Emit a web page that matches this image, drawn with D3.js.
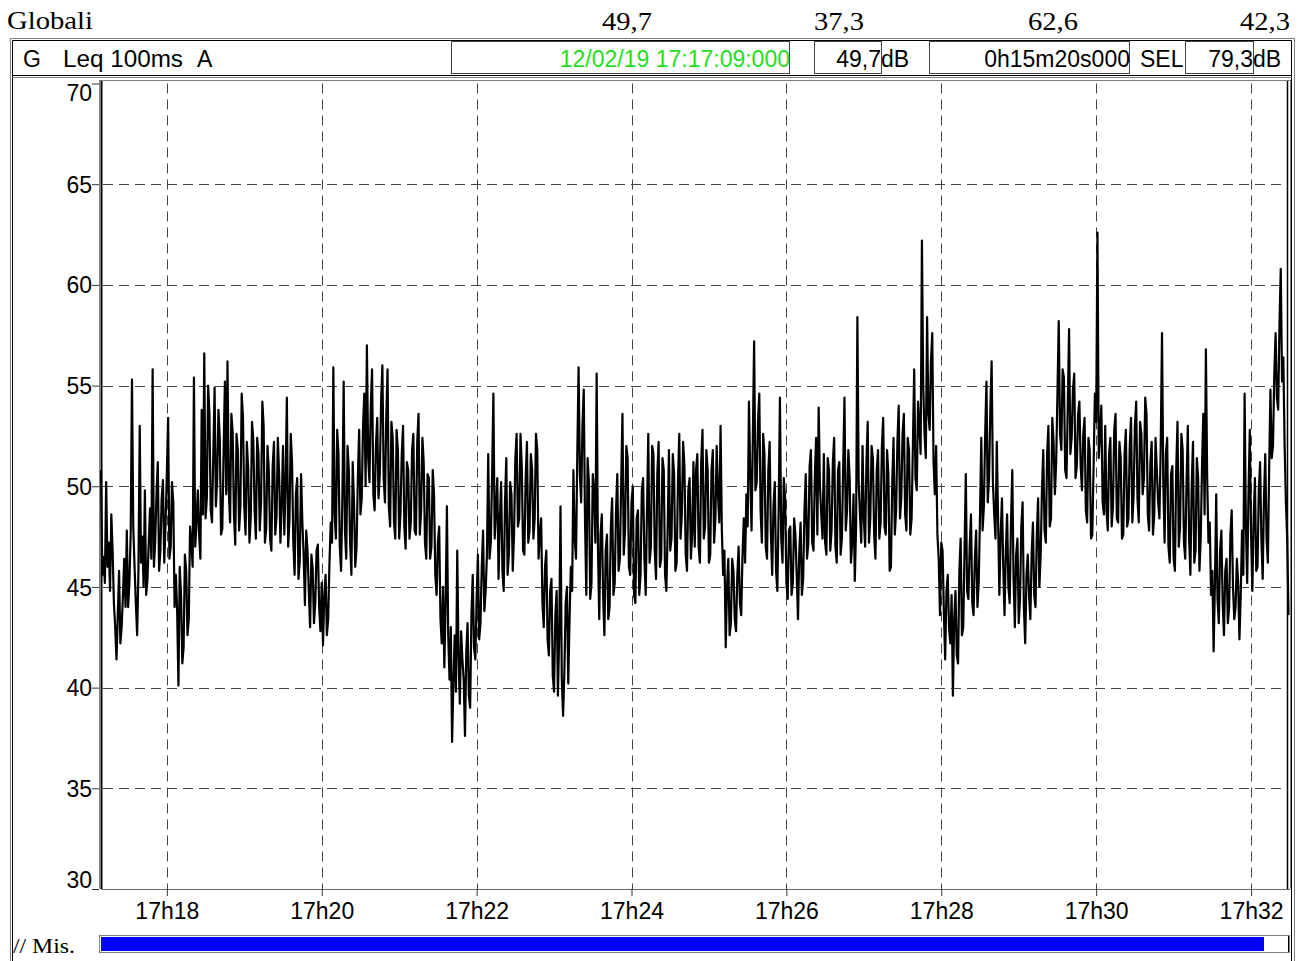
<!DOCTYPE html>
<html lang="it">
<head>
    <meta charset="UTF-8">
    <title>Globali - Leq 100ms A</title>
    <script src="https://cdn.jsdelivr.net/npm/d3@7"></script>
    <style>
        body { margin: 0; background: #fff; }
        svg { display: block; }
        .sans { font-family: "Liberation Sans", Arial, sans-serif; }
        .serif { font-family: "Liberation Serif", "Times New Roman", serif; }
    </style>
</head>
<body>
<div id="canvas"></div>

<script>
    // ---- data ----
    const startTime = new Date(2019, 1, 12, 17, 17, 9);
    const endTime = new Date(2019, 1, 12, 17, 32, 29);
    const stepSeconds = 1;

    const yTicks = [30, 35, 40, 45, 50, 55, 60, 65, 70];
    const xTickLabels = ["17h18", "17h20", "17h22", "17h24", "17h26", "17h28", "17h30", "17h32"];

    const topValues = ["49,7", "37,3", "62,6", "42,3"];
    const headerDate = "12/02/19 17:17:09:000";
    const headerLeq = "49,7";
    const headerDuration = "0h15m20s000";
    const headerSel = "79,3";

    // Leq 100ms (A) in dB: even seconds
    const levels = [
        50.8, 46.5, 50.2, 47.2, 48.6, 44.2, 41.4, 45.8, 43.0, 46.4,
        47.8, 45.2, 55.3, 46.0, 42.6, 53.0, 47.5, 49.8, 45.4, 48.9,
        55.8, 47.3, 51.2, 46.8, 50.3, 48.1, 53.4, 47.0, 49.2, 45.6,
        40.1, 44.6, 42.0, 45.8, 43.4, 47.2, 55.4, 48.2, 47.6, 53.8,
        56.6, 49.4, 53.6, 48.2, 54.9, 50.3, 52.4, 47.9, 55.2, 56.2,
        48.2, 52.7, 47.1, 51.8, 49.0, 53.4, 47.6, 50.9, 48.4, 52.3,
        47.4, 51.6, 49.2, 53.0, 47.9, 50.8, 46.8, 52.2, 48.5, 50.6,
        49.1, 47.6, 54.4, 48.3, 51.2, 45.6, 50.4, 46.3, 48.2, 44.1,
        46.8, 43.0, 45.9, 44.2, 47.1, 42.8, 42.1, 45.6, 43.4, 48.2,
        55.9, 47.4, 51.6, 45.8, 55.2, 46.4, 50.8, 45.6, 49.2, 47.0,
        52.8, 49.4, 54.6, 57.0, 50.2, 55.8, 48.8, 53.4, 50.6, 56.0,
        49.2, 55.8, 48.0, 52.4, 47.4, 51.8, 48.6, 53.0, 46.9, 50.8,
        48.2, 52.6, 47.6, 53.6, 48.8, 51.2, 46.4, 50.4, 47.0, 49.6,
        44.6, 48.0, 42.2, 41.0, 49.0, 40.4, 37.3, 42.6, 46.8, 39.2,
        41.4, 37.6, 43.2, 39.0, 45.6, 41.4, 46.6, 43.2, 47.8, 44.8,
        51.6, 47.2, 54.6, 48.8, 45.4, 50.2, 44.8, 51.4, 46.6, 49.6,
        47.6, 52.6, 48.4, 51.0, 46.6, 52.2, 47.8, 50.8, 48.4, 51.8,
        47.6, 44.2, 46.0, 42.4, 44.8, 40.6, 43.6, 39.6, 49.0, 38.6,
        44.2, 40.2, 46.0, 50.8, 46.4, 55.9, 49.2, 54.8, 44.6, 50.2,
        45.2, 49.8, 55.6, 43.4, 48.6, 42.6, 47.6, 44.0, 49.4, 45.2,
        50.6, 46.4, 53.6, 47.8, 51.4, 45.6, 50.0, 44.2, 48.8, 45.6,
        50.4, 44.6, 52.6, 47.0, 51.6, 45.4, 52.2, 46.4, 50.8, 44.8,
        51.8, 47.4, 50.6, 46.2, 52.6, 48.6, 51.0, 45.8, 50.4, 47.6,
        47.0, 51.6, 46.2, 52.8, 48.0, 50.8, 46.6, 51.8, 48.4, 49.6,
        53.0, 45.6, 42.0, 46.4, 43.2, 45.8, 42.8, 47.0, 43.6, 48.4,
        49.6, 54.2, 47.8, 57.2, 50.2, 54.6, 47.2, 51.6, 46.4, 52.2,
        45.6, 50.2, 44.8, 54.4, 46.2, 49.4, 44.4, 48.0, 45.2, 47.6,
        43.4, 48.2, 45.4, 50.6, 47.2, 51.8, 46.8, 52.4, 53.9, 48.6,
        51.6, 46.6, 50.8, 47.8, 52.4, 46.2, 51.2, 47.4, 54.4, 48.8,
        50.4, 47.2, 45.3, 58.4, 48.6, 52.0, 47.0, 53.2, 48.4, 51.4,
        46.4, 51.8, 48.2, 53.4, 47.6, 50.6, 46.0, 52.4, 48.8, 54.0,
        49.4, 53.6, 47.8, 51.8, 48.4, 55.8, 49.8, 53.0, 62.2, 52.6,
        58.4, 52.8, 57.6, 49.6, 47.6, 43.6, 46.8, 41.4, 45.6, 42.2,
        39.6, 44.8, 41.2, 47.4, 43.0, 50.6, 44.4, 48.6, 43.6, 47.8,
        45.2, 52.4, 49.0, 55.2, 50.4, 56.2, 48.6, 52.2, 44.6, 49.4,
        43.6, 48.6, 44.2, 50.8, 43.0, 47.4, 44.4, 49.2, 42.2, 46.6,
        43.4, 48.2, 44.0, 49.4, 46.6, 51.8, 47.2, 53.0, 48.4, 52.2,
        51.2, 58.2, 51.8, 55.4, 50.4, 57.8, 52.4, 55.6, 51.0, 54.2,
        49.8, 53.4, 48.2, 51.8, 47.6, 54.6, 62.6, 52.6, 49.2, 53.0,
        47.8, 52.4, 49.0, 53.6, 48.2, 51.4, 47.6, 52.8, 48.4, 53.4,
        49.6, 54.2, 48.2, 52.6, 50.4, 53.6, 47.8, 52.2, 48.6, 50.8,
        48.4, 57.6, 47.2, 52.4, 46.2, 51.0, 45.8, 53.2, 48.0, 51.8,
        46.4, 53.0, 45.6, 52.2, 46.8, 50.4, 47.4, 53.6, 56.8, 47.2,
        44.6, 41.8, 49.6, 43.2, 47.8, 42.6, 46.4, 44.0, 48.8, 43.4,
        46.4, 42.4, 47.8, 54.6, 45.2, 52.8, 44.8, 50.4, 46.0, 51.2,
        45.4, 51.6, 46.2, 54.8, 52.0, 57.6, 53.8, 60.8, 56.4, 49.2,
        43.6
    ];

    // odd seconds, in between the values above
    const levelsOdd = [
        45.6, 45.2, 46.0, 44.8, 46.8, 43.0, 43.6, 42.2, 44.6, 44.0,
        44.0, 47.6, 48.0, 44.2, 45.8, 46.2, 45.0, 44.6, 47.2, 46.4,
        46.0, 49.6, 45.8, 49.4, 46.2, 50.6, 46.4, 50.2, 44.0, 43.8,
        46.0, 41.2, 46.6, 42.6, 48.0, 46.0, 47.0, 49.8, 46.4, 48.6,
        48.4, 55.0, 48.8, 51.6, 49.0, 53.8, 47.6, 51.8, 49.6, 49.8,
        53.6, 48.6, 52.6, 47.8, 54.6, 49.0, 52.2, 47.2, 53.2, 48.8,
        52.4, 47.8, 54.2, 47.2, 52.0, 47.4, 51.0, 47.6, 52.4, 47.2,
        52.0, 50.2, 47.0, 52.6, 47.2, 49.6, 45.4, 50.6, 46.6, 47.8,
        44.8, 46.6, 43.2, 46.8, 44.0, 45.2, 44.6, 42.6, 46.2, 47.2,
        48.6, 52.8, 47.0, 49.4, 47.8, 52.0, 47.2, 51.2, 46.0, 50.4,
        48.6, 53.0, 50.0, 51.4, 54.0, 49.6, 52.0, 49.4, 54.2, 50.4,
        53.4, 49.0, 53.2, 48.2, 52.8, 47.4, 51.6, 48.0, 51.2, 47.4,
        51.8, 47.8, 52.2, 47.6, 52.4, 47.2, 50.6, 46.4, 50.8, 45.6,
        47.2, 43.4, 45.0, 44.2, 42.6, 43.0, 40.2, 39.8, 41.6, 42.8,
        40.4, 41.8, 39.6, 43.6, 42.0, 44.4, 42.4, 46.0, 43.8, 46.6,
        46.4, 50.6, 47.4, 50.4, 48.4, 45.8, 49.2, 45.6, 50.2, 45.8,
        51.4, 48.0, 52.6, 46.8, 50.4, 47.2, 51.6, 47.4, 52.6, 46.4,
        48.4, 43.0, 46.8, 41.6, 45.4, 39.8, 44.8, 42.6, 40.4, 40.8,
        45.0, 43.4, 44.8, 47.4, 51.6, 50.6, 53.0, 48.2, 51.4, 44.4,
        50.6, 47.2, 47.0, 47.6, 44.6, 46.8, 43.4, 48.0, 44.6, 48.8,
        45.8, 50.2, 46.6, 52.0, 46.0, 49.2, 44.6, 48.4, 44.6, 49.8,
        46.4, 48.8, 46.2, 52.0, 46.8, 50.6, 46.0, 51.4, 45.6, 47.8,
        46.8, 51.6, 45.8, 50.2, 47.4, 52.2, 46.6, 49.8, 46.4, 51.2,
        50.8, 47.0, 51.2, 47.4, 51.8, 46.2, 50.8, 47.2, 52.0, 48.2,
        47.8, 46.8, 45.0, 42.6, 46.4, 43.4, 45.6, 44.2, 46.6, 46.2,
        48.0, 50.6, 52.4, 49.8, 53.2, 48.8, 52.6, 47.0, 50.8, 47.6,
        49.0, 45.8, 48.8, 47.4, 50.4, 45.2, 47.8, 44.6, 48.4, 45.6,
        46.8, 44.6, 48.8, 46.4, 51.0, 47.2, 50.4, 47.6, 50.0, 47.4,
        47.2, 51.4, 46.8, 51.2, 47.0, 50.8, 46.6, 51.0, 47.8, 51.8,
        46.2, 49.6, 48.0, 50.2, 47.2, 48.4, 51.2, 47.2, 52.0, 47.6,
        50.8, 47.4, 52.0, 48.0, 51.8, 45.8, 50.2, 47.6, 52.2, 48.4,
        52.6, 48.6, 52.4, 47.6, 52.0, 50.4, 54.2, 51.6, 55.0, 51.4,
        53.6, 56.2, 51.2, 52.0, 46.4, 47.2, 43.8, 44.8, 43.0, 44.6,
        43.4, 41.6, 45.8, 42.6, 46.8, 44.8, 47.0, 44.2, 46.4, 44.0,
        48.6, 47.8, 52.6, 49.2, 53.8, 50.2, 47.4, 48.4, 47.6, 46.0,
        46.8, 45.0, 48.2, 45.4, 46.6, 43.2, 48.0, 44.0, 45.6, 44.6,
        46.6, 44.6, 47.6, 45.0, 49.8, 47.8, 51.6, 48.0, 53.4, 49.6,
        54.6, 52.6, 55.8, 50.8, 54.0, 51.6, 54.8, 50.4, 53.6, 51.0,
        52.6, 48.8, 52.4, 47.4, 51.0, 53.2, 51.4, 54.0, 48.6, 48.8,
        51.6, 48.0, 52.8, 48.4, 52.2, 47.4, 51.6, 48.0, 52.0, 48.2,
        53.0, 49.4, 53.2, 49.6, 54.4, 48.6, 51.2, 47.6, 52.4, 49.2,
        52.0, 50.2, 51.6, 47.0, 50.6, 46.4, 50.8, 47.0, 52.6, 47.2,
        50.2, 47.4, 50.0, 46.2, 51.4, 45.8, 51.0, 48.6, 50.4, 48.2,
        45.8, 45.2, 44.4, 46.8, 44.2, 45.8, 43.2, 47.6, 45.0, 44.0,
        45.2, 44.6, 45.6, 48.0, 49.6, 47.6, 48.4, 45.8, 49.8, 47.4,
        49.4, 47.4, 50.8, 51.4, 55.6, 54.4, 58.0, 55.2, 52.0, 47.4
    ];

    // ---- layout ----
    const width = 1305;
    const height = 961;
    const plot = { left: 101, right: 1288.5, top: 83.5, bottom: 889 };

    const trace = levels.flatMap((v, i) => i < levelsOdd.length ? [v, levelsOdd[i]] : [v]);

    const svg = d3.select("#canvas")
        .append("svg")
        .attr("width", width)
        .attr("height", height);

    const x = d3.scaleTime()
        .domain([startTime, endTime])
        .range([plot.left, plot.right]);

    const y = d3.scaleLinear()
        .domain([30, 70])
        .range([plot.bottom, plot.top]);

    // outer window frame
    const frame = svg.append("g");
    frame.append("path")
        .attr("d", "M10.5,961V38.5H1294.5V961")
        .attr("fill", "none").attr("stroke", "#808080");
    frame.append("path")
        .attr("d", "M12.5,961V40.5H1291.5V961")
        .attr("fill", "none").attr("stroke", "#000");
    frame.append("line")
        .attr("x1", 12).attr("x2", 1292).attr("y1", 75.5).attr("y2", 75.5)
        .attr("stroke", "#000");
    frame.append("line")
        .attr("x1", 12).attr("x2", 1292).attr("y1", 77.5).attr("y2", 77.5)
        .attr("stroke", "#808080");

    // title line above the frame
    svg.append("text").attr("class", "serif")
        .attr("x", 7).attr("y", 29)
        .attr("font-size", 26)
        .attr("textLength", 86).attr("lengthAdjust", "spacingAndGlyphs")
        .text("Globali");

    const topPos = [627, 839, 1053, 1265];
    svg.selectAll(".topval")
        .data(topValues)
        .enter().append("text")
        .attr("class", "serif topval")
        .attr("x", (d, i) => topPos[i] - 25)
        .attr("y", 30)
        .attr("font-size", 25)
        .attr("textLength", 50).attr("lengthAdjust", "spacingAndGlyphs")
        .text(d => d);

    // header row
    const header = svg.append("g").attr("class", "sans").attr("font-size", 23);
    header.append("text").attr("x", 23).attr("y", 67).text("G");
    header.append("text").attr("x", 63).attr("y", 67)
        .attr("textLength", 120).attr("lengthAdjust", "spacingAndGlyphs")
        .text("Leq 100ms");
    header.append("text").attr("x", 197).attr("y", 67).text("A");

    const boxes = [[451, 338], [814, 67], [929, 200], [1185, 68]];
    header.selectAll("rect")
        .data(boxes)
        .enter().append("rect")
        .attr("x", d => d[0] + 0.5).attr("y", 41.5)
        .attr("width", d => d[1]).attr("height", 32)
        .attr("fill", "none").attr("stroke", "#444");

    header.append("text").attr("x", 790).attr("y", 67)
        .attr("text-anchor", "end").attr("fill", "#1ee01e")
        .text(headerDate);
    header.append("text").attr("x", 881).attr("y", 67)
        .attr("text-anchor", "end").text(headerLeq);
    header.append("text").attr("x", 881).attr("y", 67).text("dB");
    header.append("text").attr("x", 1130).attr("y", 67)
        .attr("text-anchor", "end").text(headerDuration);
    header.append("text").attr("x", 1140).attr("y", 67).text("SEL");
    header.append("text").attr("x", 1253).attr("y", 67)
        .attr("text-anchor", "end").text(headerSel);
    header.append("text").attr("x", 1253).attr("y", 67).text("dB");

    // grid
    const grid = svg.append("g")
        .attr("stroke", "#444")
        .attr("stroke-width", 1)
        .attr("stroke-dasharray", "10,6");

    grid.selectAll(".hgrid")
        .data(yTicks.filter(d => d > 30 && d < 70))
        .enter().append("line")
        .attr("x1", plot.left + 2).attr("x2", 1287)
        .attr("y1", d => Math.round(y(d)) + 0.5)
        .attr("y2", d => Math.round(y(d)) + 0.5);

    const xTicks = x.ticks(d3.timeMinute.every(2));
    grid.selectAll(".vgrid")
        .data(xTicks)
        .enter().append("line")
        .attr("x1", d => Math.round(x(d)) + 0.5)
        .attr("x2", d => Math.round(x(d)) + 0.5)
        .attr("y1", plot.top)
        .attr("y2", plot.bottom);

    // trace
    const line = d3.line()
        .x((d, i) => x(new Date(startTime.getTime() + i * stepSeconds * 1000)))
        .y(d => y(d));

    svg.append("path")
        .datum(trace)
        .attr("fill", "none")
        .attr("stroke", "#000")
        .attr("stroke-width", 2.2)
        .attr("stroke-linejoin", "round")
        .attr("d", line);

    // plot frame
    const pf = svg.append("g").attr("fill", "none");
    pf.append("line")
        .attr("x1", 99).attr("x2", 1291).attr("y1", 80.5).attr("y2", 80.5)
        .attr("stroke", "#808080");
    pf.append("line")
        .attr("x1", 99.5).attr("x2", 99.5).attr("y1", 80).attr("y2", 889)
        .attr("stroke", "#808080");
    pf.append("line")
        .attr("x1", 101.5).attr("x2", 101.5).attr("y1", 81).attr("y2", 889)
        .attr("stroke", "#000").attr("stroke-width", 2);
    pf.append("line")
        .attr("x1", 1287.5).attr("x2", 1287.5).attr("y1", 81).attr("y2", 889)
        .attr("stroke", "#000").attr("stroke-width", 1.5);
    pf.append("line")
        .attr("x1", 1290.5).attr("x2", 1290.5).attr("y1", 81).attr("y2", 889)
        .attr("stroke", "#808080");

    // y axis
    const yAxis = svg.append("g")
        .attr("transform", "translate(99,0)")
        .call(d3.axisLeft(y).tickValues(yTicks).tickSize(7).tickPadding(0));
    yAxis.select(".domain").remove();
    yAxis.selectAll(".tick line").attr("stroke", "#333");
    yAxis.selectAll(".tick text")
        .attr("class", "sans")
        .attr("font-size", 23)
        .attr("fill", "#000")
        .attr("dy", d => d === 70 ? "0.72em" : d === 30 ? "-0.05em" : "0.35em");

    // x axis
    const xAxis = svg.append("g")
        .attr("transform", `translate(0,${plot.bottom})`)
        .call(d3.axisBottom(x)
            .tickValues(xTicks)
            .tickSize(7)
            .tickPadding(7)
            .tickFormat((d, i) => xTickLabels[i]));
    xAxis.select(".domain")
        .attr("d", `M${plot.left},0.5H1290`)
        .attr("stroke", "#666");
    xAxis.selectAll(".tick line").attr("stroke", "#333");
    xAxis.selectAll(".tick text")
        .attr("class", "sans")
        .attr("font-size", 23)
        .attr("fill", "#000");

    // measurement bar
    svg.append("text").attr("class", "serif")
        .attr("x", 13).attr("y", 953)
        .attr("font-size", 21)
        .attr("textLength", 62).attr("lengthAdjust", "spacingAndGlyphs")
        .text("// Mis.");
    svg.append("rect")
        .attr("x", 99.5).attr("y", 935.5).attr("width", 1190).attr("height", 17)
        .attr("fill", "#fff").attr("stroke", "#808080");
    svg.append("rect")
        .attr("x", x(startTime)).attr("y", 937).attr("width", 1264 - x(startTime)).attr("height", 14)
        .attr("fill", "#0000ff");
    svg.append("line")
        .attr("x1", 1288.5).attr("x2", 1288.5).attr("y1", 936).attr("y2", 952)
        .attr("stroke", "#000");
</script>
</body>
</html>
